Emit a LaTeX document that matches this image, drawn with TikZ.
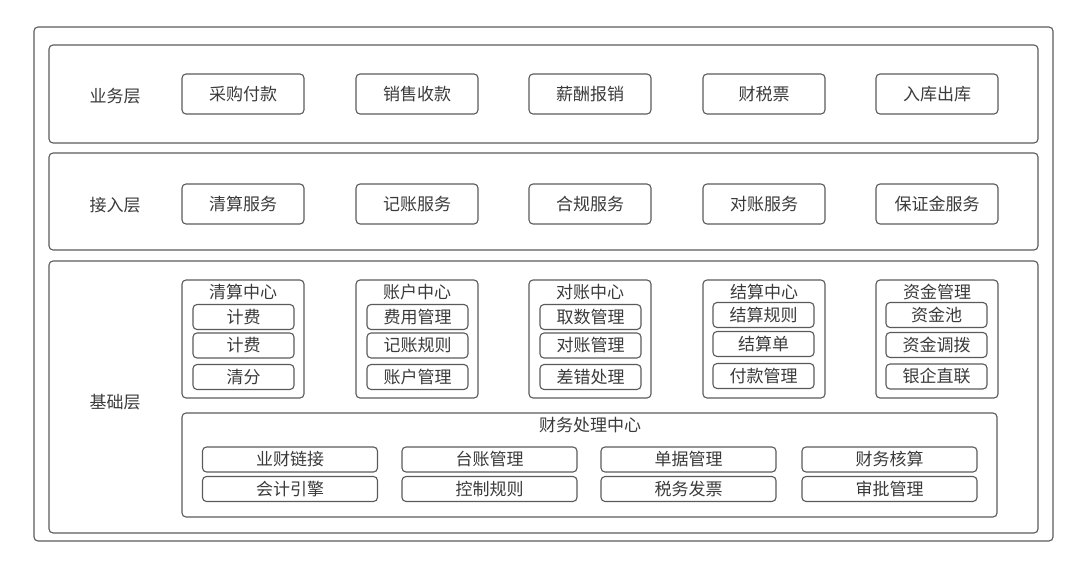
\documentclass[tikz,border=0pt]{standalone}
\usepackage{fontspec}
\setmainfont{Noto Sans CJK SC}
\definecolor{linec}{HTML}{5A5A5A}
\definecolor{textc}{HTML}{3A3A3A}
\begin{document}
\begin{tikzpicture}[x=1pt,y=-1pt,
  every node/.style={font=\fontsize{17pt}{20pt}\selectfont, text=textc},
  frame/.style={draw=linec, line width=1.1pt, rounded corners=4pt, inner sep=0pt},
  panel/.style={frame},
  tbox/.style={frame, minimum width=122pt, minimum height=40pt},
  grp/.style={frame, minimum width=122pt, minimum height=118pt},
  sbox/.style={frame, minimum width=101pt, minimum height=25pt},
  wbox/.style={frame, minimum width=175pt, minimum height=25pt},
  lbl/.style={inner sep=0pt}]
\useasboundingbox (0,0) rectangle (1080,569);
% frames
\node[panel, minimum width=1019pt, minimum height=514pt] (outer) at (543.5,284) {};
\node[panel, minimum width=989pt, minimum height=98pt] (L1) at (543.5,94) {};
\node[panel, minimum width=989pt, minimum height=97pt] (L2) at (543.5,201.5) {};
\node[panel, minimum width=989pt, minimum height=272pt] (L3) at (543.5,397) {};
% layer labels
\node[lbl] (t1) at (115,96) {业务层};
\node[lbl] (t2) at (115,205) {接入层};
\node[lbl] (t3) at (115,402) {基础层};
% business layer
\node[tbox] (b1) at (243,94) {采购付款};
\node[tbox] (b2) at (417,94) {销售收款};
\node[tbox] (b3) at (590,94) {薪酬报销};
\node[tbox] (b4) at (764,94) {财税票};
\node[tbox] (b5) at (937,94) {入库出库};
% access layer
\node[tbox] (a1) at (243,204) {清算服务};
\node[tbox] (a2) at (417,204) {记账服务};
\node[tbox] (a3) at (590,204) {合规服务};
\node[tbox] (a4) at (764,204) {对账服务};
\node[tbox] (a5) at (937,204) {保证金服务};
% base groups
\node[grp] (g1) at (243,339) {};
\node[grp] (g2) at (417,339) {};
\node[grp] (g3) at (590,339) {};
\node[grp] (g4) at (764,339) {};
\node[grp] (g5) at (937,339) {};
\node[lbl] (g1t) at (243,292) {清算中心};
\node[lbl] (g2t) at (417,292) {账户中心};
\node[lbl] (g3t) at (590,292) {对账中心};
\node[lbl] (g4t) at (764,292) {结算中心};
\node[lbl] (g5t) at (937,292) {资金管理};
\node[sbox] (s11) at (243.5,317) {计费};
\node[sbox] (s12) at (243.5,345.5) {计费};
\node[sbox] (s13) at (243.5,377) {清分};
\node[sbox] (s21) at (417.5,317) {费用管理};
\node[sbox] (s22) at (417.5,345.5) {记账规则};
\node[sbox] (s23) at (417.5,377) {账户管理};
\node[sbox] (s31) at (590.5,317) {取数管理};
\node[sbox] (s32) at (590.5,345.5) {对账管理};
\node[sbox] (s33) at (590.5,377) {差错处理};
\node[sbox] (s41) at (763.5,315) {结算规则};
\node[sbox] (s42) at (763.5,344) {结算单};
\node[sbox] (s43) at (763.5,376) {付款管理};
\node[sbox] (s51) at (936.5,315) {资金池};
\node[sbox] (s52) at (936.5,345) {资金调拨};
\node[sbox] (s53) at (936.5,376.5) {银企直联};
% finance processing center
\node[frame, minimum width=815pt, minimum height=104pt] (fc) at (589.5,465) {};
\node[lbl] (fct) at (590,425) {财务处理中心};
\node[wbox] (f11) at (290,459.5) {业财链接};
\node[wbox] (f12) at (489.5,459.5) {台账管理};
\node[wbox] (f13) at (688.5,459.5) {单据管理};
\node[wbox] (f14) at (889.5,459.5) {财务核算};
\node[wbox] (f21) at (290,489) {会计引擎};
\node[wbox] (f22) at (489.5,489) {控制规则};
\node[wbox] (f23) at (688.5,489) {税务发票};
\node[wbox] (f24) at (889.5,489) {审批管理};
\end{tikzpicture}
\end{document}
